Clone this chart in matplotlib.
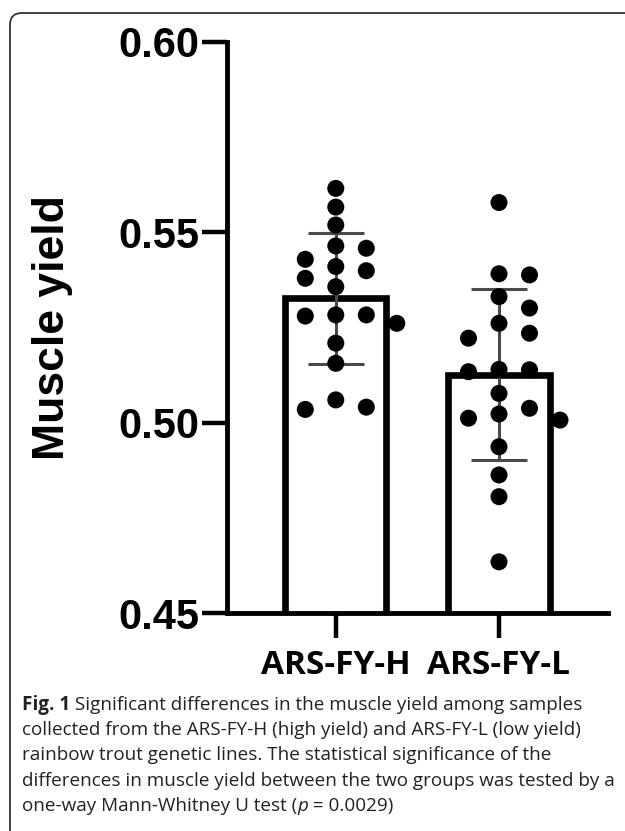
import numpy as np
import matplotlib
matplotlib.use("Agg")
import matplotlib.pyplot as plt
from matplotlib.patches import FancyBboxPatch
from matplotlib.transforms import IdentityTransform

# values
groups = ["ARS-FY-H", "ARS-FY-L"]
high_yield = [0.5615, 0.5566, 0.5519, 0.5464, 0.5458, 0.5429, 0.5410, 0.5399,
              0.5379, 0.5357, 0.5283, 0.5283, 0.5280, 0.5261, 0.5209, 0.5156,
              0.5060, 0.5041, 0.5035]
low_yield = [0.5578, 0.5391, 0.5388, 0.5331, 0.5301, 0.5261, 0.5235, 0.5222,
             0.5140, 0.5139, 0.5134, 0.5077, 0.5038, 0.5023, 0.5012, 0.5007,
             0.4937, 0.4863, 0.4806, 0.4635]
y_ticks = [0.45, 0.50, 0.55, 0.60]
y_label = "Muscle yield"

caption = [
    [("Fig. 1", "bold"), (" Significant differences in the muscle yield among samples", "normal")],
    [("collected from the ARS-FY-H (high yield) and ARS-FY-L (low yield)", "normal")],
    [("rainbow trout genetic lines. The statistical significance of the", "normal")],
    [("differences in muscle yield between the two groups was tested by a", "normal")],
    [("one-way Mann-Whitney U test (", "normal"), ("p", "italic"), (" = 0.0029)", "normal")],
]

W, H = 625, 831
fig = plt.figure(figsize=(W / 100, H / 100), dpi=100)
ax = fig.add_axes([0.3627, 0.262, 0.6096, 0.6878])

data = [np.array(high_yield), np.array(low_yield)]
xpos = np.arange(len(groups))
means = [d.mean() for d in data]
sds = [d.std(ddof=1) for d in data]

ax.set_xlim(-0.6685, 1.666)
ax.set_ylim(0.45, 0.60)

ax.bar(xpos, means, width=0.62, color="white", edgecolor="black", linewidth=4.8, zorder=2)
ax.errorbar(xpos, means, yerr=sds, fmt="none", ecolor="#4a4a4a", elinewidth=2.2,
            capsize=20, capthick=2.2, zorder=3)


def swarm(vals, center, step_px=30.5, diam_px=17):
    pts = ax.transData.transform(np.column_stack([np.full(len(vals), center), vals]))
    yp = pts[:, 1]
    px_per_x = ax.transData.transform([(1, 0)])[0, 0] - ax.transData.transform([(0, 0)])[0, 0]
    offs = np.zeros(len(vals))
    placed = []
    for i in np.argsort(-vals, kind="stable"):
        for k in [0, 1, -1, 2, -2, 3, -3]:
            dx = k * step_px
            if all((dx - a) ** 2 + (yp[i] - b) ** 2 >= diam_px ** 2 for a, b in placed):
                break
        placed.append((dx, yp[i]))
        offs[i] = dx
    return center + offs / px_per_x


for x0, d in zip(xpos, data):
    ax.scatter(swarm(d, x0), d, s=150, color="black", edgecolors="none", zorder=4, clip_on=False)

for s in ["top", "right"]:
    ax.spines[s].set_visible(False)
for s in ["left", "bottom"]:
    ax.spines[s].set_linewidth(3.5)

ax.set_yticks(y_ticks)
ax.set_yticklabels([f"{v:.2f}" for v in y_ticks], fontsize=30, fontweight="bold",
                   family="Liberation Sans")
ax.set_xticks(xpos)
ax.set_xticklabels(groups, fontsize=24, fontweight="bold", family="Open Sans")
ax.tick_params(axis="y", length=18, width=3.2, pad=2)
ax.tick_params(axis="x", length=18, width=3.2, pad=8)

ax.set_ylabel(y_label, fontsize=32, fontweight="bold", family="Liberation Sans")
ax.yaxis.label.set_va("center")
ax.yaxis.set_label_coords(-0.458, 0.5)

# caption box
box = FancyBboxPatch((10, -30), 700, H - 13 + 30, boxstyle="round,pad=0,rounding_size=12",
                     transform=IdentityTransform(), lw=1.3, ec="#333333", fc="none")
fig.add_artist(box)

renderer = fig.canvas.get_renderer()
line_y = [705, 730, 755, 781, 806]
for y, parts in zip(line_y, caption):
    x = 22
    for txt, st in parts:
        kw = dict(family="Open Sans", fontsize=13.6, color="#222222", va="center")
        if st == "bold":
            kw["fontweight"] = "bold"
        if st == "italic":
            kw["style"] = "italic"
        t = fig.text(x / W, 1 - y / H, txt, **kw)
        x += t.get_window_extent(renderer).width

fig.savefig("out.png", dpi=100)
